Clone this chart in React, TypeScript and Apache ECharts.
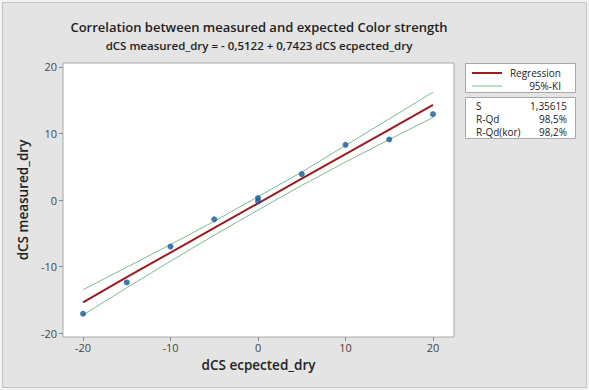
import React, { useEffect, useRef } from "react";
import * as echarts from "echarts";

const expectedX = [-20, -15, -10, -5, 0, 0, 5, 10, 15, 20];
const measuredY = [-17.1, -12.4, -7.0, -2.9, 0.3, -0.2, 3.9, 8.3, 9.1, 12.9];

// Fitted line and 95% band
const fitX = [-20, -15, -10, -5, 0, 5, 10, 15, 20];
const regressionY = [-15.4, -11.6, -7.9, -4.2, -0.5, 3.2, 6.9, 10.6, 14.3];
const upperKI = [-13.5, -10.1, -6.7, -3.2, 0.5, 4.2, 8.2, 12.2, 16.2];
const lowerKI = [-17.3, -13.2, -9.2, -5.3, -1.5, 2.2, 5.7, 9.1, 12.4];

// Tick labels
const xTicks = [-20, -10, 0, 10, 20];
const yTicks = [-20, -10, 0, 10, 20];

// Texts
const titleLine1 = "Correlation between measured and expected Color strength";
const titleLine2 = "dCS measured_dry = - 0,5122 + 0,7423 dCS ecpected_dry";
const xName = "dCS ecpected_dry";
const yName = "dCS measured_dry";
const legendNames = ["Regression", "95%-KI"];
const statLabels = ["S", "R-Qd", "R-Qd(kor)"];
const statValues = ["1,35615", "98,5%", "98,2%"];

const FONT = "'Open Sans', 'Noto Sans', sans-serif";
const RED = "#9b1b1f";
const GREEN = "#7dbb8c";
const BLUE = "#15599a";

export default function App() {
  const ref = useRef<HTMLDivElement>(null);
  useEffect(() => {
    if (!ref.current) return;
    const chart = echarts.init(ref.current, undefined, { renderer: "svg" });
    const pairs = (xs: number[], ys: number[]) => xs.map((x, i) => [x, ys[i]]);
    const legendTop = 63;
    const statTop = 97;
    const option: any = {
      animation: false,
      backgroundColor: "#f3f3f3",
      textStyle: { fontFamily: FONT },
      grid: {
        left: 63,
        top: 63,
        width: 391,
        height: 274,
        show: true,
        backgroundColor: "#ffffff",
        borderColor: "#a8a8a8",
        borderWidth: 1,
      },
      xAxis: {
        type: "value",
        min: -22.29,
        max: 22.4,
        name: xName,
        nameLocation: "middle",
        nameGap: 18,
        nameTextStyle: { fontSize: 13.5, fontWeight: 600, color: "#222", fontFamily: FONT },
        axisLine: { show: false, onZero: false },
        splitLine: { show: false },
        axisTick: { show: true, customValues: xTicks, length: 4, lineStyle: { color: "#8a8a8a" } },
        axisLabel: { customValues: xTicks, fontSize: 11, color: "#444", margin: 5, fontFamily: FONT },
      },
      yAxis: {
        type: "value",
        min: -20.6,
        max: 20.6,
        name: yName,
        nameLocation: "middle",
        nameGap: 28,
        nameTextStyle: { fontSize: 13.5, fontWeight: 600, color: "#222", fontFamily: FONT },
        axisLine: { show: false, onZero: false },
        splitLine: { show: false },
        axisTick: { show: true, customValues: yTicks, length: 4, lineStyle: { color: "#8a8a8a" } },
        axisLabel: { customValues: yTicks, fontSize: 11, color: "#444", margin: 6, fontFamily: FONT },
      },
      series: [
        {
          name: "95%-KI upper",
          type: "line",
          data: pairs(fitX, upperKI),
          symbol: "none",
          lineStyle: { color: GREEN, width: 1 },
          z: 2,
        },
        {
          name: "95%-KI lower",
          type: "line",
          data: pairs(fitX, lowerKI),
          symbol: "none",
          lineStyle: { color: GREEN, width: 1 },
          z: 2,
        },
        {
          name: "Regression",
          type: "line",
          data: pairs(fitX, regressionY),
          symbol: "none",
          lineStyle: { color: RED, width: 2 },
          z: 3,
        },
        {
          name: "Data",
          type: "scatter",
          data: pairs(expectedX, measuredY),
          symbol: "circle",
          symbolSize: 6,
          itemStyle: { color: BLUE },
          z: 4,
        },
      ],
      graphic: [
        {
          type: "rect",
          z: -10,
          silent: true,
          shape: { x: 2.5, y: 2.5, width: 584, height: 385 },
          style: { fill: "#e4e4e4", stroke: "#c4c4c4", lineWidth: 1 },
        },
        {
          type: "text",
          x: 259,
          y: 27,
          style: {
            text: titleLine1,
            fontSize: 13,
            fontWeight: 600,
            fontFamily: FONT,
            fill: "#1e1e1e",
            align: "center",
            verticalAlign: "middle",
          },
        },
        {
          type: "text",
          x: 259,
          y: 45,
          style: {
            text: titleLine2,
            fontSize: 11.5,
            fontWeight: 600,
            fontFamily: FONT,
            fill: "#1e1e1e",
            align: "center",
            verticalAlign: "middle",
          },
        },
        {
          type: "rect",
          shape: { x: 465.5, y: legendTop + 0.5, width: 110, height: 29 },
          style: { fill: "#ffffff", stroke: "#a8a8a8", lineWidth: 1 },
        },
        {
          type: "line",
          shape: { x1: 472, y1: legendTop + 10, x2: 502, y2: legendTop + 10 },
          style: { stroke: RED, lineWidth: 2 },
        },
        {
          type: "text",
          x: 561,
          y: legendTop + 10,
          style: {
            text: legendNames[0],
            fontSize: 10,
            fontFamily: FONT,
            fill: "#222",
            align: "right",
            verticalAlign: "middle",
          },
        },
        {
          type: "line",
          shape: { x1: 472, y1: legendTop + 23, x2: 502, y2: legendTop + 23 },
          style: { stroke: GREEN, lineWidth: 1 },
        },
        {
          type: "text",
          x: 561,
          y: legendTop + 23,
          style: {
            text: legendNames[1],
            fontSize: 10,
            fontFamily: FONT,
            fill: "#222",
            align: "right",
            verticalAlign: "middle",
          },
        },
        {
          type: "rect",
          shape: { x: 465.5, y: statTop + 0.5, width: 110, height: 41 },
          style: { fill: "#ffffff", stroke: "#a8a8a8", lineWidth: 1 },
        },
        ...statLabels.flatMap((lab, i) => [
          {
            type: "text",
            x: 476,
            y: statTop + 9 + i * 13,
            style: {
              text: lab,
              fontSize: 10,
              fontFamily: FONT,
              fill: "#222",
              align: "left",
              verticalAlign: "middle",
            },
          },
          {
            type: "text",
            x: 567,
            y: statTop + 9 + i * 13,
            style: {
              text: statValues[i],
              fontSize: 10,
              fontFamily: FONT,
              fill: "#222",
              align: "right",
              verticalAlign: "middle",
            },
          },
        ]),
      ],
    };
    chart.setOption(option);
    return () => chart.dispose();
  }, []);
  return (
    <div
      ref={ref}
      style={{ position: "fixed", left: 0, top: 0, width: 589, height: 390 }}
    />
  );
}
